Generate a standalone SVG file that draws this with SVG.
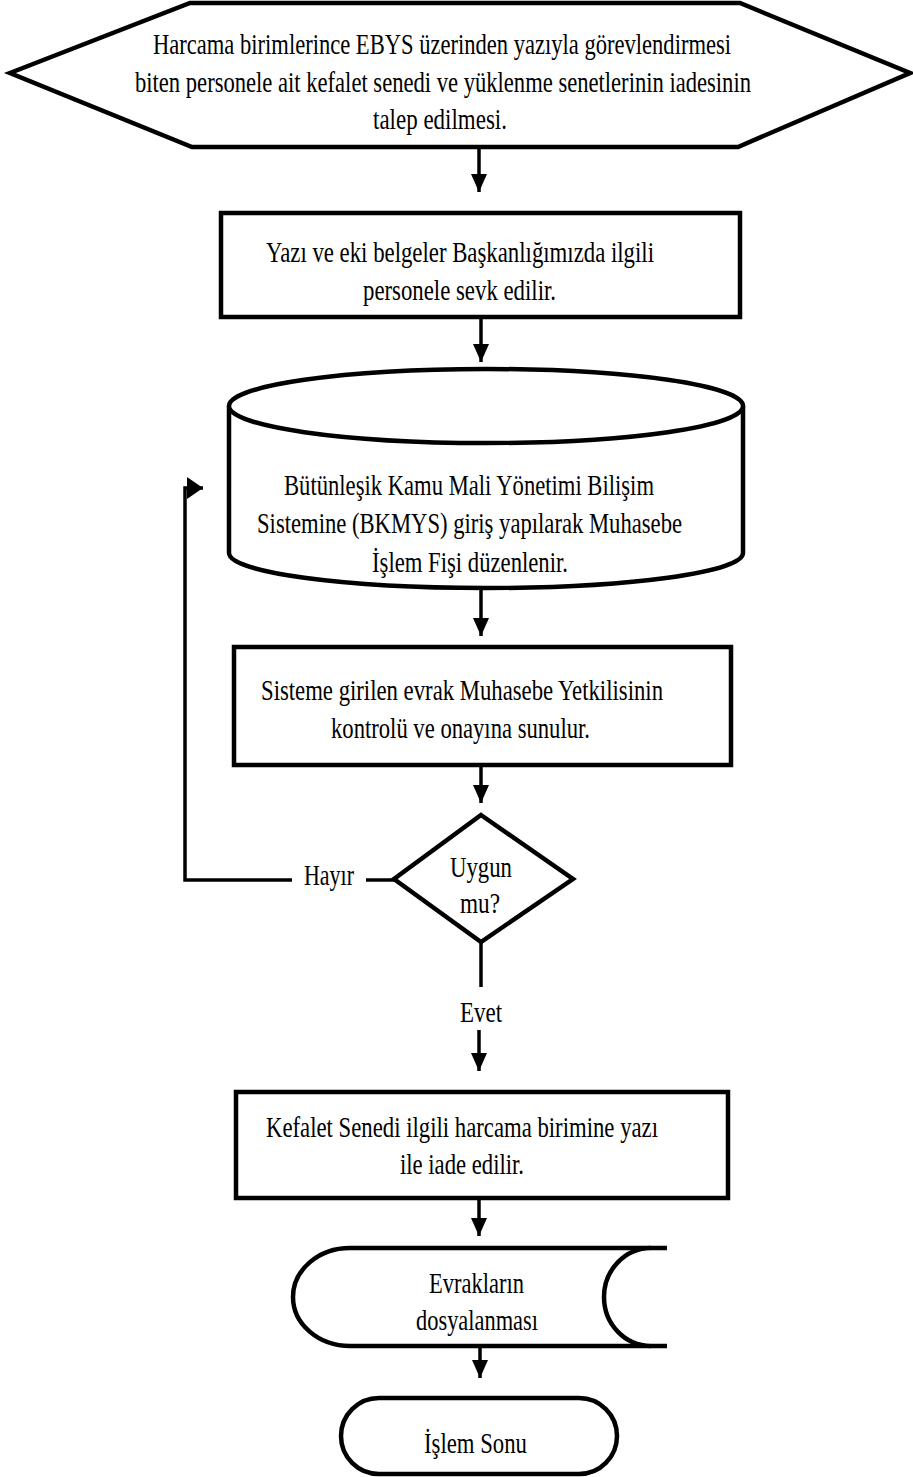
<svg xmlns="http://www.w3.org/2000/svg" width="913" height="1477" viewBox="0 0 913 1477">
<style>
.s{fill:#fff;stroke:#000;stroke-width:4.5;stroke-linejoin:miter}
.c{fill:none;stroke:#000;stroke-width:3.5}
text{font-family:"Liberation Serif","Times New Roman",serif;font-size:30px;fill:#000}
</style>
<defs>
<marker id="ah" markerUnits="userSpaceOnUse" markerWidth="18" markerHeight="16" viewBox="0 0 18 16" refX="18" refY="8" orient="auto">
<path d="M0,0 L18,8 L0,16 Z" fill="#000"/>
</marker>
<marker id="ah2" markerUnits="userSpaceOnUse" markerWidth="16" markerHeight="22" viewBox="0 0 16 22" refX="16" refY="11" orient="auto">
<path d="M0,0 L16,11 L0,22 Z" fill="#000"/>
</marker>
</defs>
<rect width="913" height="1477" fill="#fff"/>
<g id="connectors">
<line class="c" x1="479" y1="149" x2="479" y2="192" marker-end="url(#ah)"/>
<line class="c" x1="481" y1="318" x2="481" y2="362" marker-end="url(#ah)"/>
<line class="c" x1="481" y1="588" x2="481" y2="636" marker-end="url(#ah)"/>
<line class="c" x1="481" y1="766" x2="481" y2="803" marker-end="url(#ah)"/>
<line class="c" x1="481" y1="942" x2="481" y2="987"/>
<line class="c" x1="479" y1="1030" x2="479" y2="1071" marker-end="url(#ah)"/>
<line class="c" x1="479" y1="1199" x2="479" y2="1236" marker-end="url(#ah)"/>
<line class="c" x1="480" y1="1348" x2="480" y2="1378" marker-end="url(#ah)"/>
<line class="c" x1="394" y1="880" x2="366" y2="880"/>
<path class="c" d="M292,880 L185,880 L185,488 L203,488" marker-end="url(#ah2)"/>
<text x="304" y="885" textLength="50" lengthAdjust="spacingAndGlyphs">Hayır</text>
<text x="460" y="1022" textLength="42" lengthAdjust="spacingAndGlyphs">Evet</text>
</g>
<g id="n1">
<polygon class="s" points="190,3 740,3 910,73 738,147 192,147 10,73"/>
<text transform="translate(153,54) scale(0.75,1)" textLength="770.7" lengthAdjust="spacingAndGlyphs">Harcama birimlerince EBYS üzerinden yazıyla görevlendirmesi</text>
<text transform="translate(135,92) scale(0.75,1)" textLength="821.3" lengthAdjust="spacingAndGlyphs">biten personele ait kefalet senedi ve yüklenme senetlerinin iadesinin</text>
<text x="373" y="129" textLength="134" lengthAdjust="spacingAndGlyphs">talep edilmesi.</text>
</g>
<g id="n2">
<rect class="s" x="221" y="213" width="519" height="104"/>
<text x="266" y="262" textLength="388" lengthAdjust="spacingAndGlyphs">Yazı ve eki belgeler Başkanlığımızda ilgili</text>
<text x="363" y="300" textLength="193" lengthAdjust="spacingAndGlyphs">personele sevk edilir.</text>
</g>
<g id="n3">
<path class="s" d="M229,406 A257,37 0 0 1 743,406 L743,553 A257,35 0 0 1 229,553 Z"/>
<path class="s" fill="none" d="M229,406 A257,37 0 0 0 743,406"/>
<text x="284" y="495" textLength="370" lengthAdjust="spacingAndGlyphs">Bütünleşik Kamu Mali Yönetimi Bilişim</text>
<text x="257" y="533" textLength="425" lengthAdjust="spacingAndGlyphs">Sistemine (BKMYS) giriş yapılarak Muhasebe</text>
<text x="372" y="572" textLength="196" lengthAdjust="spacingAndGlyphs">İşlem Fişi düzenlenir.</text>
</g>
<g id="n4">
<rect class="s" x="234" y="647" width="497" height="118"/>
<text x="261" y="700" textLength="402" lengthAdjust="spacingAndGlyphs">Sisteme girilen evrak Muhasebe Yetkilisinin</text>
<text x="331" y="738" textLength="259" lengthAdjust="spacingAndGlyphs">kontrolü ve onayına sunulur.</text>
</g>
<g id="n5">
<polygon class="s" points="481,815 573,879 481,942 394,879"/>
<text x="450" y="877" textLength="62" lengthAdjust="spacingAndGlyphs">Uygun</text>
<text x="460" y="913" textLength="40" lengthAdjust="spacingAndGlyphs">mu?</text>
</g>
<g id="n6">
<rect class="s" x="236" y="1092" width="492" height="106"/>
<text x="266" y="1137" textLength="392" lengthAdjust="spacingAndGlyphs">Kefalet Senedi ilgili harcama birimine yazı</text>
<text x="400" y="1174" textLength="124" lengthAdjust="spacingAndGlyphs">ile iade edilir.</text>
</g>
<g id="n7">
<path class="s" d="M667,1248 L350,1248 A57,49 0 0 0 350,1346 L667,1346" fill="none"/>
<path class="s" d="M651,1248 A47,49 0 0 0 651,1346" fill="none"/>
<text x="429" y="1293" textLength="95" lengthAdjust="spacingAndGlyphs">Evrakların</text>
<text x="416" y="1330" textLength="122" lengthAdjust="spacingAndGlyphs">dosyalanması</text>
</g>
<g id="n8">
<rect class="s" x="341" y="1398" width="276" height="76" rx="38" ry="38"/>
<text x="424" y="1453" textLength="103" lengthAdjust="spacingAndGlyphs">İşlem Sonu</text>
</g>
</svg>
